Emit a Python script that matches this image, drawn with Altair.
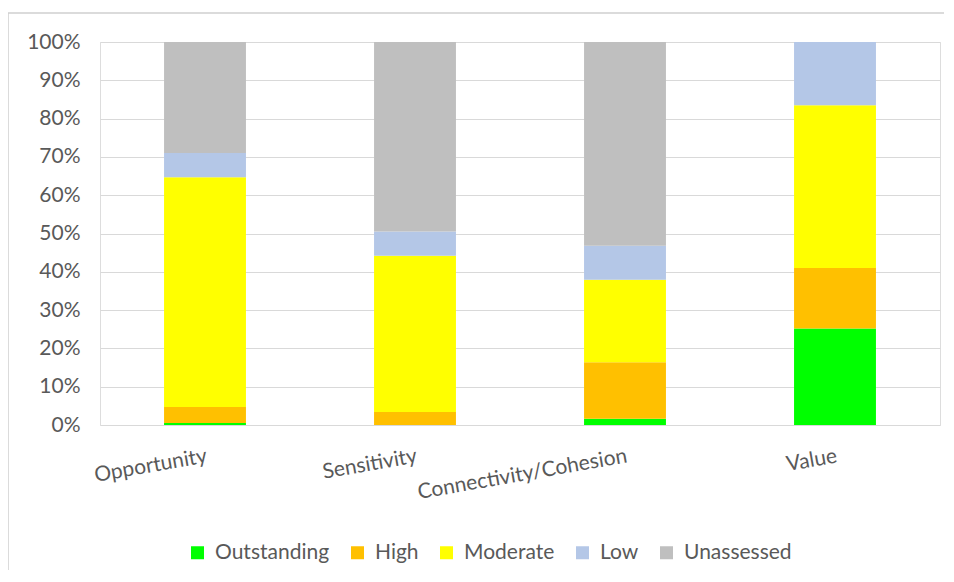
import altair as alt
import pandas as pd

categories = ["Opportunity", "Sensitivity", "Connectivity/Cohesion", "Value"]
levels = ["Outstanding", "High", "Moderate", "Low", "Unassessed"]
colors = ["#00FF00", "#FFC000", "#FFFF00", "#B4C7E7", "#BFBFBF"]

# percent shares per category, in level order
outstanding = [0.5, 0.0, 1.6, 25.2]
high = [4.2, 3.4, 14.8, 15.8]
moderate = [60.0, 40.8, 21.5, 42.5]
low = [6.3, 6.3, 8.9, 16.5]
unassessed = [29.0, 49.5, 53.2, 0.0]

series = [outstanding, high, moderate, low, unassessed]
rows = []
for li, (lvl, vals) in enumerate(zip(levels, series)):
    for cat, v in zip(categories, vals):
        rows.append({"Category": cat, "Level": lvl, "order": li, "share": v / 100.0})
df = pd.DataFrame(rows)

FONT = "Lato"
TXT = "#595959"

bars = alt.Chart(df).mark_bar().encode(
    x=alt.X("Category:N", sort=categories,
            scale=alt.Scale(paddingInner=0.61, paddingOuter=0.305),
            axis=alt.Axis(title=None, labelAngle=-10, labelAlign="right",
                          labelBaseline="top", labelPadding=20, labelFontSize=21,
                          labelColor=TXT, labelFont=FONT, labelLimit=400,
                          domain=False, ticks=False)),
    y=alt.Y("share:Q", stack="zero",
            scale=alt.Scale(domain=[0, 1], nice=False),
            axis=alt.Axis(title=None, format=".0%", values=[i / 10 for i in range(11)],
                          labelFontSize=21, labelColor=TXT, labelFont=FONT,
                          labelPadding=20, domain=False, ticks=False,
                          gridColor="#D9D9D9", gridWidth=1)),
    color=alt.Color("Level:N", sort=levels,
                    scale=alt.Scale(domain=levels, range=colors),
                    legend=alt.Legend(title=None, orient="none", direction="horizontal",
                                      legendX=87, legendY=500, symbolType="square",
                                      symbolSize=169, symbolStrokeWidth=0,
                                      labelFontSize=21, labelColor=TXT, labelFont=FONT,
                                      labelOffset=7, columnPadding=17, padding=0)),
    order=alt.Order("order:Q", sort="ascending"),
)

border = alt.Chart(pd.DataFrame({"a": [0]})).mark_rect(
    fillOpacity=0, stroke="#D0D0D0", strokeWidth=1.5
).encode(
    x=alt.value(-92), x2=alt.value(900), y=alt.value(-29), y2=alt.value(600)
)

chart = alt.layer(border, bars).properties(
    width=840, height=383,
    autosize=alt.AutoSizeParams(type="none"),
    padding={"left": 92, "top": 34, "right": 4, "bottom": 145},
).configure_view(stroke=None).configure(background="white")

chart.save("out.html", embed_options={"renderer": "svg", "actions": False})
